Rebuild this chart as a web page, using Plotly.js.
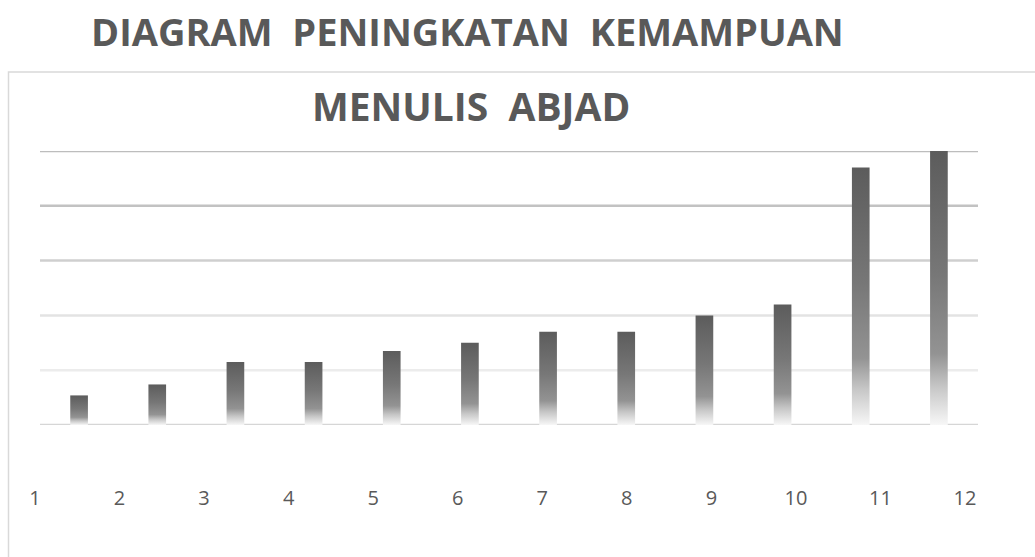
<!DOCTYPE html>
<html>
<head>
<meta charset="utf-8">
<script src="https://cdn.plot.ly/plotly-3.0.1.min.js"></script>
<style>
  html, body { margin: 0; padding: 0; background: #ffffff; }
  #chart { width: 1035px; height: 557px; }
</style>
</head>
<body>
<div id="chart"></div>
<script>
// ---- data ----
const categories = ['1','2','3','4','5','6','7','8','9','10','11','12'];
const values = [5.4, 7.4, 11.5, 11.5, 13.5, 15, 17, 17, 20, 22, 47, 50];
const tickLabels = ['1','2','3','4','5','6','7','8','9','10','11','12'];
const tickPositions = [1,2,3,4,5,6,7,8,9,10,11,12];
const gridValues = [0, 10, 20, 30, 40, 50];
const titleLine1 = 'DIAGRAM\u00a0 PENINGKATAN\u00a0 KEMAMPUAN';
const titleLine2 = 'MENULIS\u00a0 ABJAD';

// ---- styles ----
const gridColors = ['#d6d6d6', '#ececec', '#e3e3e3', '#cfcfcf', '#c2c2c2', '#bdbdbd'];
const W = 1035, H = 557;
const mL = 20, mR = 40, mT = 151, mB = 132;
const plotW = W - mL - mR;
const plotH = H - mT - mB;

const shapes = gridValues.map((v, i) => ({
  type: 'line', xref: 'x domain', yref: 'y', x0: 0, x1: 1, y0: v, y1: v,
  line: { color: gridColors[i], width: 2.5 }, layer: 'below'
}));
// chart frame
shapes.push({
  type: 'rect', xref: 'paper', yref: 'paper', layer: 'below',
  x0: (8.5 - mL) / plotW, x1: (1045 - mL) / plotW,
  y0: -1, y1: (H - mB - 72) / plotH,
  line: { color: '#d9d9d9', width: 1.5 }, fillcolor: 'rgba(0,0,0,0)'
});

const trace = {
  type: 'bar', x: categories, y: values, xaxis: 'x', yaxis: 'y',
  marker: { color: '#7a7a7a', line: { width: 0 } },
  hoverinfo: 'skip'
};
// carrier for the label axis (draws nothing)
const labelAxisTrace = {
  type: 'scatter', mode: 'markers', x: tickPositions, y: tickPositions.map(() => null),
  xaxis: 'x2', yaxis: 'y', hoverinfo: 'skip', showlegend: false
};

const layout = {
  width: W, height: H,
  margin: { l: mL, r: mR, t: mT, b: mB, pad: 0 },
  paper_bgcolor: '#ffffff', plot_bgcolor: 'rgba(0,0,0,0)',
  showlegend: false,
  bargap: 0.774,
  xaxis: {
    type: 'category', domain: [(40 - mL) / plotW, (978 - mL) / plotW],
    showticklabels: false, showgrid: false, zeroline: false, showline: false, ticks: ''
  },
  xaxis2: {
    anchor: 'y', domain: [0, 1],
    range: [1 - (35 - mL) / 84.545, 1 - (35 - mL) / 84.545 + plotW / 84.545],
    tickmode: 'array', tickvals: tickPositions, ticktext: tickLabels,
    ticks: 'outside', ticklen: 55, tickcolor: 'rgba(0,0,0,0)',
    showgrid: false, zeroline: false, showline: false,
    tickfont: { family: 'Open Sans, sans-serif', size: 20, color: '#595959' }
  },
  yaxis: {
    range: [0, 50], showgrid: false, zeroline: false, showline: false,
    showticklabels: false, ticks: ''
  },
  shapes: shapes,
  annotations: [
    { text: '<b>' + titleLine1 + '</b>', xref: 'paper', yref: 'paper',
      x: (467.5 - mL) / plotW, y: (H - mB - 31) / plotH, xanchor: 'center', yanchor: 'middle',
      showarrow: false, font: { family: 'Open Sans, sans-serif', size: 38, color: '#595959' } },
    { text: '<b>' + titleLine2 + '</b>', xref: 'paper', yref: 'paper',
      x: (470.5 - mL) / plotW, y: (H - mB - 105) / plotH, xanchor: 'center', yanchor: 'middle',
      showarrow: false, font: { family: 'Open Sans, sans-serif', size: 39, color: '#595959' } }
  ]
};

Plotly.newPlot('chart', [trace, labelAxisTrace], layout, { displayModeBar: false, staticPlot: true }).then(gd => {
  const svgNS = 'http://www.w3.org/2000/svg';
  const svg = gd.querySelector('svg.main-svg');
  let defs = svg.querySelector('defs');
  if (!defs) { defs = document.createElementNS(svgNS, 'defs'); svg.insertBefore(defs, svg.firstChild); }
  const grad = document.createElementNS(svgNS, 'linearGradient');
  grad.setAttribute('id', 'barGrad');
  grad.setAttribute('x1', '0'); grad.setAttribute('y1', '0');
  grad.setAttribute('x2', '0'); grad.setAttribute('y2', '1');
  [[0, '#5c5c5c'], [0.45, '#777777'], [0.74, '#939393'], [0.86, '#c6c6c6'], [1, '#f7f7f7']].forEach(([o, c]) => {
    const s = document.createElementNS(svgNS, 'stop');
    s.setAttribute('offset', o); s.setAttribute('stop-color', c);
    grad.appendChild(s);
  });
  defs.appendChild(grad);
  gd.querySelectorAll('.barlayer .point path').forEach(p => {
    p.style.fill = 'url(#barGrad)';
  });
});
</script>
</body>
</html>
